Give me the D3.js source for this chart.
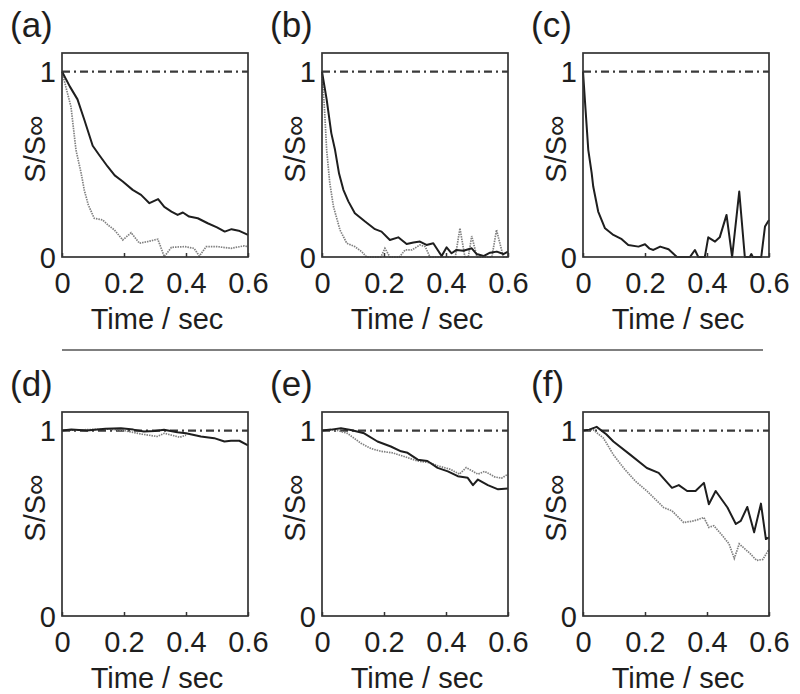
<!DOCTYPE html>
<html><head><meta charset="utf-8">
<script src="https://cdn.jsdelivr.net/npm/d3@7"></script>
<style>html,body{margin:0;padding:0;background:#fff;}svg{display:block;}</style>
</head><body>
<svg id="chart" width="800" height="694"></svg>
<script>
const panelLabels = ["(a)","(b)","(c)","(d)","(e)","(f)"];
const xTicks = [0, 0.2, 0.4, 0.6];
const xTickLabels = ["0","0.2","0.4","0.6"];
const yTicks = [0, 1];
const yTickLabels = ["0","1"];
const xTitle = "Time / sec";
const yTitle = "S/S\u221E";
const reference = 1;

const aSolid = [[0,1],[0.025,0.92],[0.05,0.85],[0.072,0.74],[0.099,0.60],[0.12,0.55],[0.147,0.488],[0.17,0.44],[0.196,0.407],[0.228,0.362],[0.255,0.335],[0.282,0.29],[0.31,0.312],[0.33,0.27],[0.353,0.245],[0.373,0.227],[0.39,0.24],[0.41,0.218],[0.438,0.209],[0.47,0.182],[0.5,0.16],[0.525,0.137],[0.547,0.15],[0.57,0.142],[0.6,0.119]];
const aDotted = [[0,1],[0.015,0.9],[0.029,0.81],[0.045,0.578],[0.062,0.45],[0.072,0.36],[0.085,0.28],[0.104,0.209],[0.131,0.2],[0.15,0.17],[0.169,0.146],[0.196,0.092],[0.223,0.131],[0.25,0.074],[0.276,0.083],[0.309,0.096],[0.33,0.002],[0.353,0.052],[0.395,0.056],[0.426,0.047],[0.443,0.005],[0.465,0.056],[0.5,0.056],[0.545,0.047],[0.588,0.06],[0.6,0.055]];
const bSolid = [[0,1],[0.015,0.85],[0.03,0.668],[0.042,0.578],[0.055,0.45],[0.069,0.362],[0.085,0.3],[0.106,0.236],[0.139,0.191],[0.171,0.15],[0.192,0.137],[0.219,0.092],[0.246,0.106],[0.273,0.07],[0.295,0.078],[0.316,0.083],[0.337,0.065],[0.359,0.074],[0.386,0.005],[0.402,0.052],[0.418,0.02],[0.434,0.038],[0.456,0.034],[0.483,0.047],[0.499,0.016],[0.521,0.005],[0.542,0.023],[0.564,0.029],[0.585,0.016],[0.6,0.029]];
const bDotted = [[0,1],[0.008,0.8],[0.015,0.578],[0.025,0.4],[0.037,0.272],[0.058,0.146],[0.08,0.074],[0.106,0.056],[0.128,0.029],[0.144,0],[0.19,0],[0.203,0.047],[0.219,0],[0.25,0],[0.268,0.038],[0.29,0.038],[0.316,0.065],[0.333,0.056],[0.348,0],[0.43,0],[0.445,0.155],[0.461,0],[0.472,0],[0.483,0.113],[0.5,0],[0.548,0],[0.563,0.146],[0.585,0],[0.6,0]];
const cSolid = [[0,1],[0.008,0.8],[0.017,0.578],[0.028,0.452],[0.033,0.38],[0.049,0.245],[0.071,0.155],[0.098,0.119],[0.125,0.096],[0.146,0.065],[0.179,0.056],[0.2,0.069],[0.215,0.045],[0.227,0.038],[0.249,0.056],[0.276,0.042],[0.303,0],[0.345,0],[0.361,0.038],[0.372,0],[0.393,0],[0.404,0.106],[0.426,0.083],[0.441,0.106],[0.463,0.227],[0.481,0],[0.504,0.353],[0.522,0],[0.538,0],[0.543,0.016],[0.548,0],[0.575,0],[0.587,0.164],[0.6,0.2]];
const dSolid = [[0,1],[0.03,1.005],[0.08,1.0],[0.14,1.01],[0.19,1.012],[0.23,1.005],[0.264,0.995],[0.3,0.997],[0.329,1.004],[0.372,0.991],[0.4,0.985],[0.448,0.968],[0.491,0.959],[0.524,0.941],[0.545,0.945],[0.572,0.945],[0.6,0.92]];
const dDotted = [[0,1],[0.05,1.003],[0.1,1.006],[0.15,1.008],[0.2,1.0],[0.23,0.99],[0.26,0.98],[0.307,0.968],[0.33,0.985],[0.38,0.964],[0.4,0.975]];
const eSolid = [[0,1],[0.03,1.005],[0.061,1.012],[0.093,1.003],[0.136,0.985],[0.179,0.941],[0.222,0.914],[0.255,0.888],[0.276,0.88],[0.309,0.843],[0.34,0.836],[0.373,0.799],[0.406,0.78],[0.438,0.754],[0.47,0.745],[0.487,0.706],[0.503,0.736],[0.535,0.706],[0.568,0.683],[0.6,0.688]];
const eDotted = [[0,1],[0.04,1.005],[0.082,0.985],[0.125,0.932],[0.158,0.903],[0.19,0.888],[0.227,0.88],[0.265,0.86],[0.308,0.836],[0.35,0.826],[0.373,0.81],[0.416,0.79],[0.443,0.765],[0.465,0.8],[0.487,0.78],[0.503,0.765],[0.525,0.78],[0.557,0.75],[0.579,0.743],[0.6,0.765]];
const fSolid = [[0,1],[0.02,1.005],[0.044,1.02],[0.075,0.98],[0.098,0.941],[0.152,0.87],[0.206,0.798],[0.244,0.772],[0.287,0.691],[0.309,0.706],[0.336,0.674],[0.363,0.674],[0.39,0.718],[0.406,0.603],[0.428,0.674],[0.466,0.585],[0.493,0.496],[0.509,0.513],[0.53,0.588],[0.552,0.451],[0.574,0.606],[0.59,0.415],[0.6,0.424]];
const fDotted = [[0,1],[0.033,1.004],[0.066,0.959],[0.098,0.87],[0.131,0.798],[0.169,0.727],[0.206,0.674],[0.26,0.585],[0.287,0.567],[0.325,0.504],[0.358,0.513],[0.39,0.531],[0.406,0.478],[0.422,0.487],[0.45,0.433],[0.471,0.389],[0.488,0.31],[0.504,0.389],[0.537,0.34],[0.56,0.3],[0.58,0.305],[0.6,0.36]];

const panelSolid = [aSolid, bSolid, cSolid, dSolid, eSolid, fSolid];
const panelDotted = [aDotted, bDotted, null, dDotted, eDotted, fDotted];

// layout
const colLeft = [62, 322, 583];
const rowTop = [53, 412];
const boxW = 186, boxH = 204;
const font = "'Liberation Sans', Arial, Helvetica, sans-serif";
const ink = "#1e1e1e";

const svg = d3.select("#chart");

panelLabels.forEach((lab, i) => {
  const col = i % 3, row = Math.floor(i / 3);
  const left = colLeft[col], top = rowTop[row];
  const x = d3.scaleLinear().domain([0, 0.6]).range([0, boxW]);
  const y = d3.scaleLinear().domain([0, 1.1]).range([boxH, 0]);
  const g = svg.append("g").attr("transform", `translate(${left},${top})`);

  // panel label
  svg.append("text").attr("x", left - 52).attr("y", top - 16)
    .attr("font-family", font).attr("font-size", 35).attr("fill", ink).text(lab);

  // reference dash-dot line
  g.append("line").attr("x1", x(0)).attr("x2", x(0.6)).attr("y1", y(reference)).attr("y2", y(reference))
    .attr("stroke", "#3a3a3a").attr("stroke-width", 2.2).attr("stroke-dasharray", "8,4,2,4");

  const line = d3.line().x(d => x(d[0])).y(d => y(d[1]));
  if (panelDotted[i]) {
    g.append("path").datum(panelDotted[i]).attr("d", line).attr("fill", "none")
      .attr("stroke", "#808080").attr("stroke-width", 1.7).attr("stroke-dasharray", "1.5,1");
  }
  g.append("path").datum(panelSolid[i]).attr("d", line).attr("fill", "none")
    .attr("stroke", ink).attr("stroke-width", 2).attr("stroke-linejoin", "round");

  // box
  g.append("rect").attr("x", 0).attr("y", 0).attr("width", boxW).attr("height", boxH)
    .attr("fill", "none").attr("stroke", "#333").attr("stroke-width", 1.7);

  // x axis (inner ticks + labels)
  const xAxis = d3.axisBottom(x).tickValues(xTicks).tickSizeInner(-4).tickSizeOuter(0)
    .tickPadding(0).tickFormat((d, k) => xTickLabels[k]);
  const xa = g.append("g").attr("transform", `translate(0,${boxH})`).call(xAxis);
  xa.select(".domain").remove();
  xa.selectAll(".tick line").attr("stroke", "#333").attr("stroke-width", 1.5);
  xa.selectAll(".tick text").attr("y", 36).attr("dy", null).attr("font-family", font)
    .attr("font-size", 29).attr("fill", ink);

  // y axis labels
  const yAxis = d3.axisLeft(y).tickValues(yTicks).tickSize(0).tickPadding(6)
    .tickFormat((d, k) => yTickLabels[k]);
  const ya = g.append("g").call(yAxis);
  ya.select(".domain").remove();
  ya.selectAll(".tick text").attr("dy", "0.35em").attr("font-family", font)
    .attr("font-size", 29).attr("fill", ink);

  // titles
  g.append("text").attr("x", boxW / 2 + 2).attr("y", boxH + 72).attr("text-anchor", "middle")
    .attr("font-family", font).attr("font-size", 29).attr("fill", ink).text(xTitle);
  g.append("text").attr("transform", `translate(-17,${boxH / 2 - 6}) rotate(-90)`)
    .attr("text-anchor", "middle").attr("font-family", font).attr("font-size", 29)
    .attr("fill", ink).text(yTitle);
});

// separator line
svg.append("line").attr("x1", 62).attr("x2", 763).attr("y1", 350).attr("y2", 350)
  .attr("stroke", "#555").attr("stroke-width", 1.6);
</script>
</body></html>
